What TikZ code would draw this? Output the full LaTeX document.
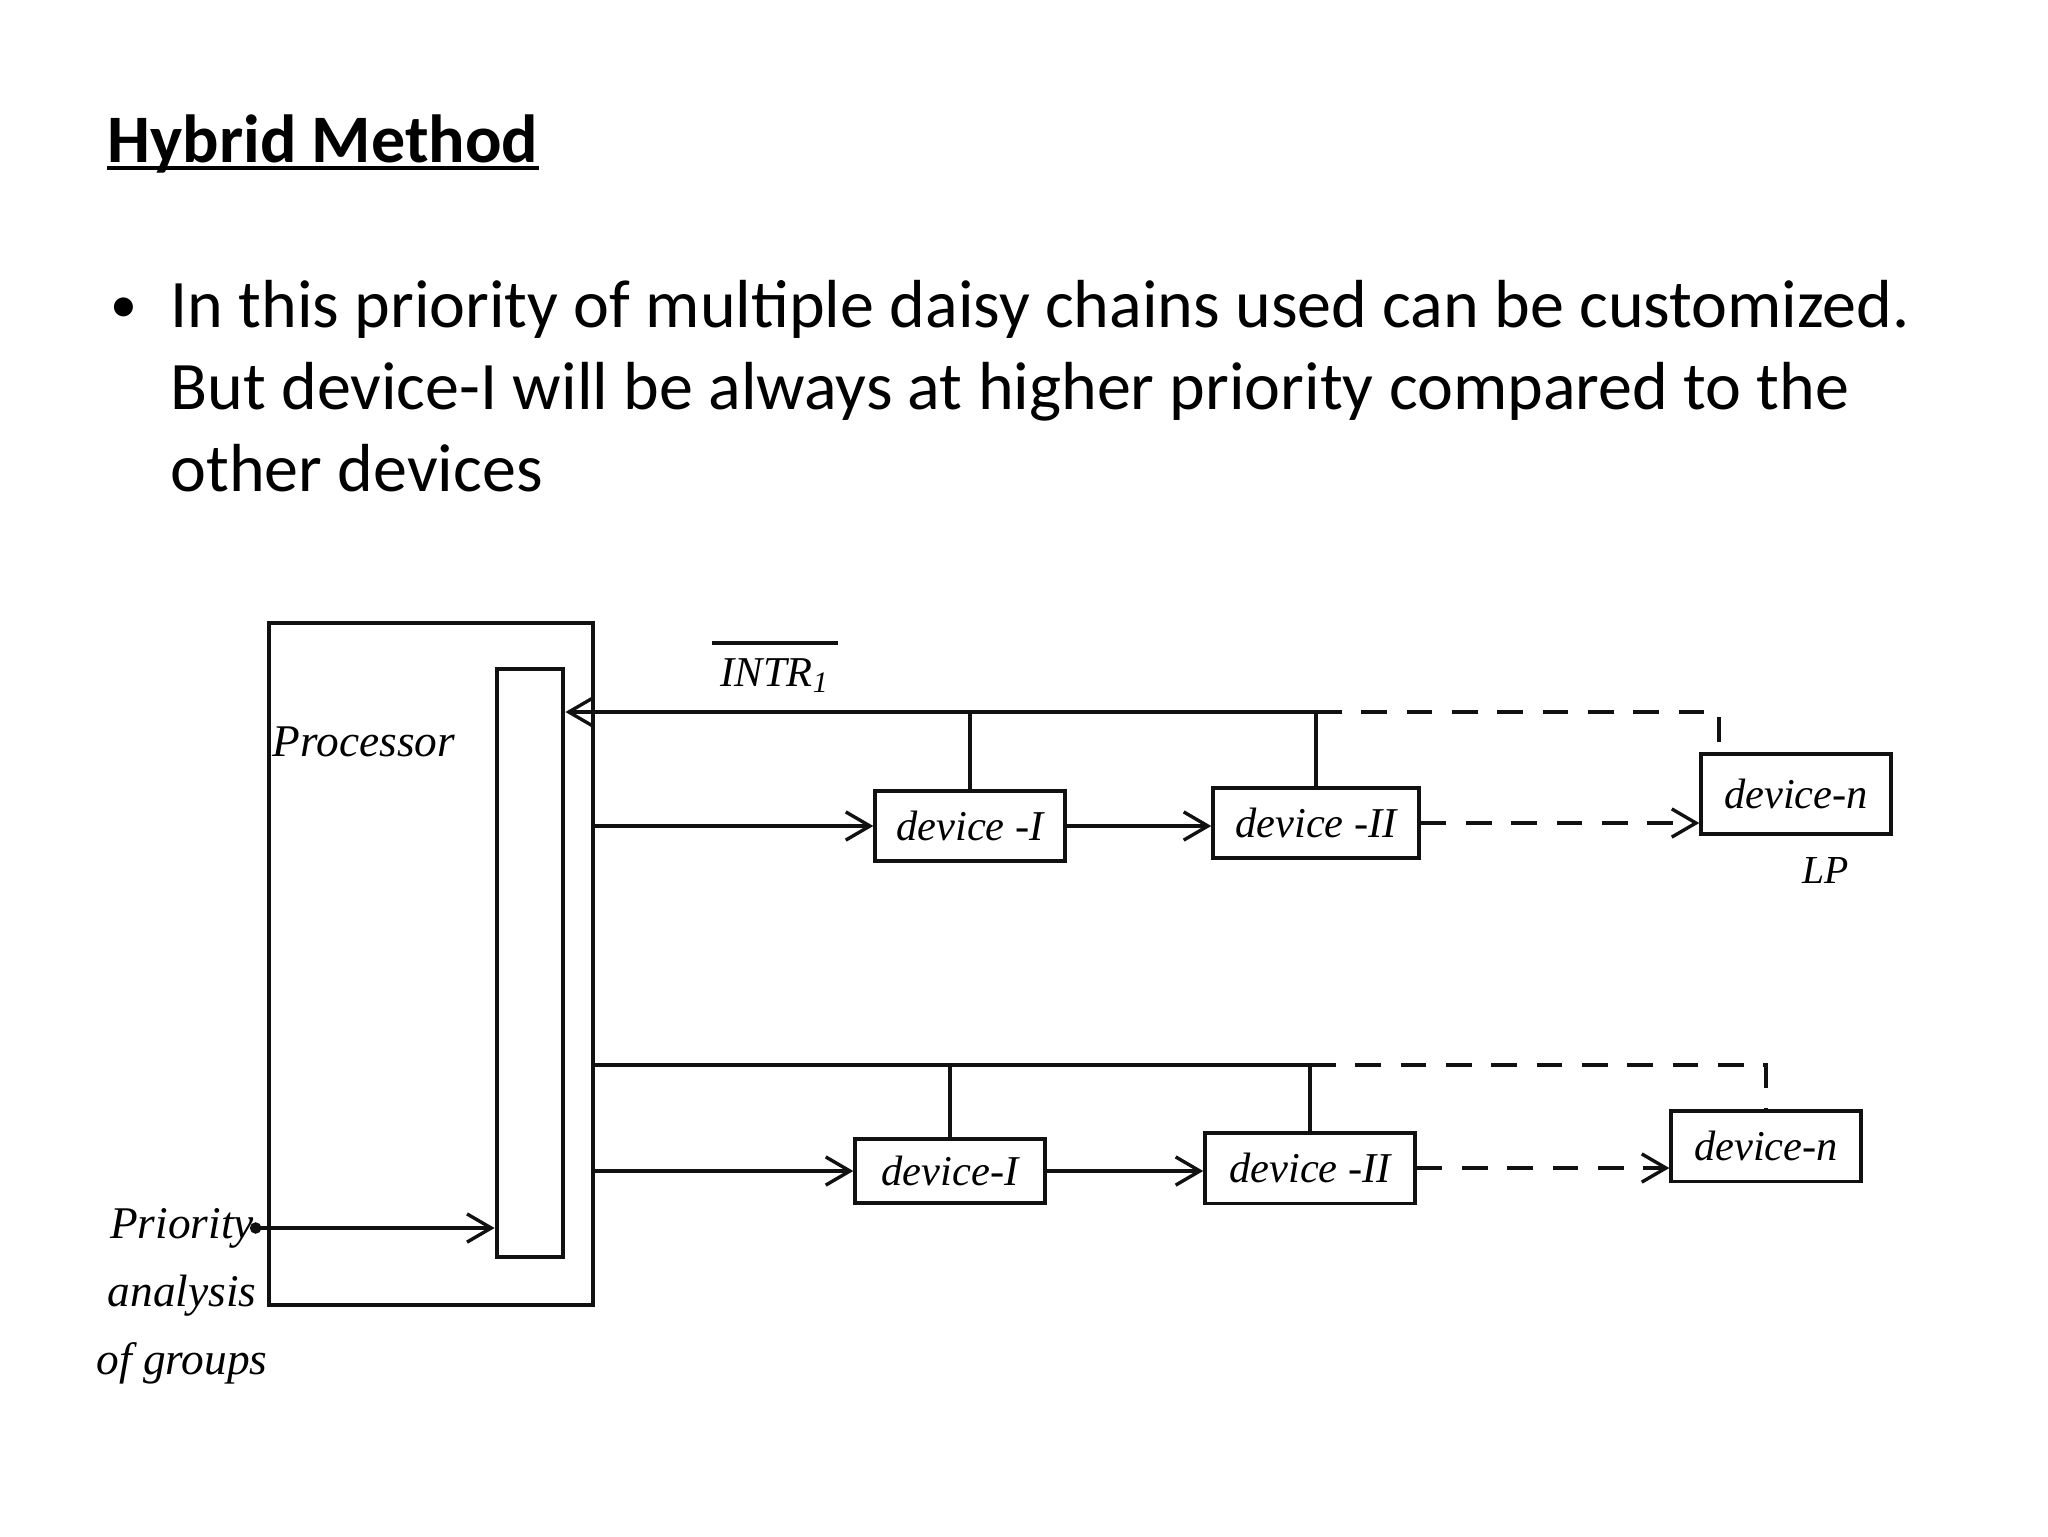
\documentclass[tikz,border=0pt]{standalone}
\usepackage{fontspec}
\setmainfont{Carlito}
\newfontfamily\handfont{Liberation Serif}
\usepackage{xcolor}
\usetikzlibrary{arrows.meta,positioning}
\definecolor{inkDark}{RGB}{17,17,17}

\begin{document}
\begin{tikzpicture}[
    x=0.0124023cm,y=-0.0124023cm,
    hand/.style={font=\handfont\itshape\fontsize{#1}{24}\selectfont},
    hand/.default=15,
    slide/.style={font=\fontsize{24}{28.8}\selectfont,inner sep=0pt},
    blk/.style={draw=inkDark,line width=1.4pt,inner sep=0pt},
    dev/.style={blk,hand,minimum width=2.35cm,minimum height=0.88cm},
    wire/.style={draw=inkDark,line width=1.2pt},
    dwire/.style={wire,dash pattern=on 9pt off 7pt},
    arr/.style={wire,-{Straight Barb[length=3mm,width=3.5mm]}},
    darr/.style={dwire,-{Straight Barb[length=3mm,width=3.5mm]}}
  ]
  \useasboundingbox (0,0) rectangle (2048,1536);
  % heading and bullet
  \node[slide,anchor=base west,font=\fontsize{24}{28.8}\selectfont\bfseries] (title) at (107,162) {Hybrid Method};
  \draw[line width=1.4pt] ([yshift=-0.7mm]title.base west) -- ([yshift=-0.7mm]title.base east);
  \node[slide,anchor=base west,font=\fontsize{19}{24}\selectfont] (bullet) at (110,322) {\textbullet};
  \node[slide,anchor=base west,align=left] (body) at (170,491)
    {In this priority of multiple daisy chains used can be customized.\\
     But device-I will be always at higher priority compared to the\\
     other devices};

  % processor
  \node[blk,minimum width=4.02cm,minimum height=8.47cm] (proc) at (431,964) {};
  \node[hand=16] (proclbl) at (364,742) {Processor};
  \node[blk,minimum width=0.83cm,minimum height=7.3cm] (bar) at (530,963) {};

  % first daisy chain
  \node[dev] (devAi) at (970,826) {device -I};
  \node[dev,minimum width=2.55cm] (devAii) at (1316,823) {device -II};
  \node[dev,minimum height=1cm] (devAn) at (1796,794) {device-n};
  \node[hand=14] (lp) at (1826,870) {LP};
  \node[hand=15,inner sep=0pt] (intr) at (775,676) {INTR\textsubscript{1}};
  \draw[wire] ([yshift=1.9mm,xshift=-1mm]intr.north west) -- ([yshift=1.9mm,xshift=1mm]intr.north east);

  \coordinate (busA) at (1316,712);
  \coordinate (dropA) at (1719,712);
  \draw[arr] (busA) -- (busA -| bar.east);
  \draw[wire] (devAi.north) -- (devAi.north |- busA);
  \draw[wire] (devAii.north) -- (busA);
  \draw[dwire] (busA) -- (dropA) -- (dropA |- devAn.north);
  \draw[arr] (proc.east |- devAi.west) -- (devAi.west);
  \draw[arr] (devAi.east) -- (devAi.east -| devAii.west);
  \draw[darr] (devAii.east) -- (devAii.east -| devAn.west);

  % second daisy chain
  \node[dev,minimum height=0.8cm] (devBi) at (950,1171) {device-I};
  \node[dev,minimum width=2.6cm] (devBii) at (1310,1168) {device -II};
  \node[dev] (devBn) at (1766,1146) {device-n};

  \coordinate (busB) at (1310,1065);
  \draw[wire] (busB) -- (busB -| proc.east);
  \draw[wire] (devBi.north) -- (devBi.north |- busB);
  \draw[wire] (devBii.north) -- (busB);
  \draw[dwire] (busB) -- (busB -| devBn.north) -- (devBn.north);
  \draw[arr] (proc.east |- devBi.west) -- (devBi.west);
  \draw[arr] (devBi.east) -- (devBi.east -| devBii.west);
  \draw[darr] (devBii.east) -- (devBii.east -| devBn.west);

  % group priority input
  \node[hand=16,align=center] (prio) at (182,1296) {Priority\\analysis\\of groups};
  \coordinate (prioOut) at (250,1228);
  \draw[arr,{Circle[length=4pt]}-{Straight Barb[length=3mm,width=3.5mm]}] (prioOut) -- (prioOut -| bar.west);
\end{tikzpicture}
\end{document}
